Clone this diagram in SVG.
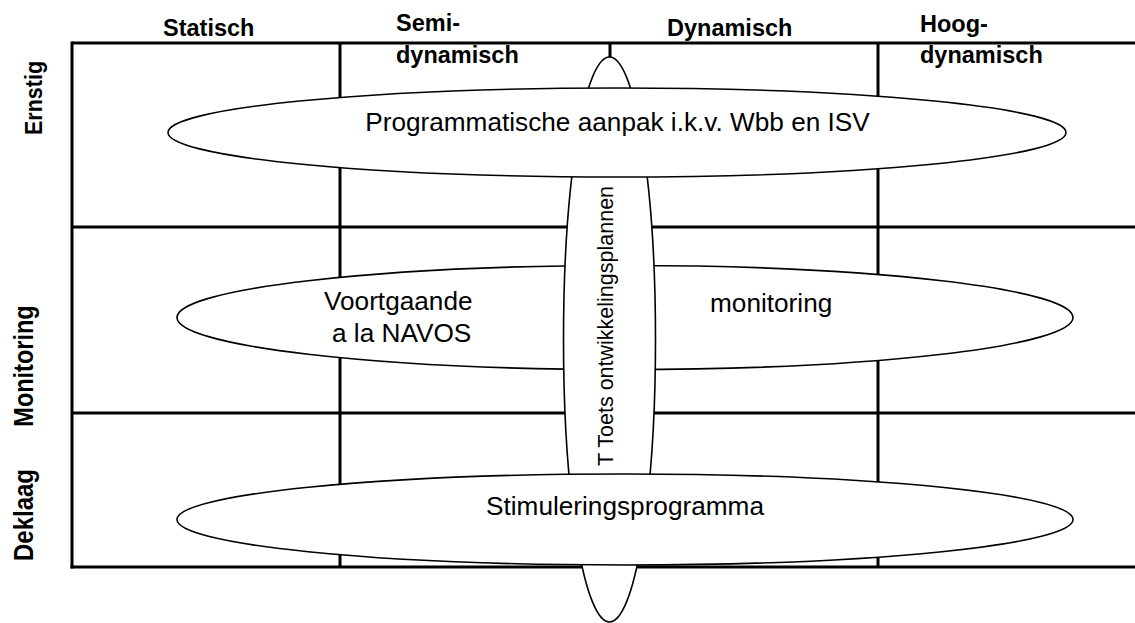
<svg xmlns="http://www.w3.org/2000/svg" width="1135" height="623" viewBox="0 0 1135 623">
<style>
.grid{stroke:#000;stroke-width:3;fill:none}
.ell{fill:#fff;stroke:#000;stroke-width:1.6}
.hdr{font-family:"Liberation Sans",Arial,sans-serif;font-weight:bold;font-size:23.5px;fill:#000}
.lbl{font-family:"Liberation Sans",Arial,sans-serif;font-size:26.2px;fill:#000}
.vt{font-family:"Liberation Sans",Arial,sans-serif;font-size:21.5px;fill:#000}
</style>
<rect width="1135" height="623" fill="#fff"/>
<g id="grid">
<line class="grid" x1="72" y1="43" x2="1135" y2="43"/>
<line class="grid" x1="72" y1="227" x2="1135" y2="227"/>
<line class="grid" x1="72" y1="413" x2="1135" y2="413"/>
<line class="grid" x1="70.5" y1="567" x2="1135" y2="567"/>
<line class="grid" x1="72" y1="41.5" x2="72" y2="568.5"/>
<line class="grid" x1="340" y1="43" x2="340" y2="567"/>
<line class="grid" x1="610" y1="43" x2="610" y2="567"/>
<line class="grid" x1="878" y1="43" x2="878" y2="567"/>
</g>
<g id="headers">
<text class="hdr" x="163" y="36">Statisch</text>
<text class="hdr" x="396" y="31">Semi-</text>
<text class="hdr" x="396" y="63">dynamisch</text>
<text class="hdr" x="667" y="36">Dynamisch</text>
<text class="hdr" x="920" y="32">Hoog-</text>
<text class="hdr" x="920" y="63">dynamisch</text>
<text class="hdr" transform="translate(41.5,98) rotate(-90) scale(1,1.15)" text-anchor="middle" style="font-size:21.5px">Ernstig</text>
<text class="hdr" transform="translate(33,366) rotate(-90) scale(1,1.15)" text-anchor="middle">Monitoring</text>
<text class="hdr" transform="translate(33,515) rotate(-90) scale(1,1.15)" text-anchor="middle" style="font-size:24px">Deklaag</text>
</g>
<g id="node-monitoring">
<ellipse class="ell" cx="625" cy="317.5" rx="448" ry="52"/>
<text class="lbl" x="324" y="310">Voortgaande</text>
<text class="lbl" x="332" y="342">a la NAVOS</text>
<text class="lbl" x="710" y="312">monitoring</text>
</g>
<g id="node-toets">
<ellipse class="ell" cx="609.5" cy="339.5" rx="46" ry="282.5"/>
<text class="vt" transform="translate(613,326) rotate(-90)" text-anchor="middle">T Toets ontwikkelingsplannen</text>
</g>
<g id="node-programmatisch">
<ellipse class="ell" cx="617" cy="132.5" rx="449" ry="44.5"/>
<text class="lbl" x="617.5" y="131" text-anchor="middle">Programmatische aanpak i.k.v. Wbb en ISV</text>
</g>
<g id="node-stimulering">
<ellipse class="ell" cx="625" cy="519.5" rx="448" ry="45.5"/>
<text class="lbl" x="625" y="515" text-anchor="middle">Stimuleringsprogramma</text>
</g>
</svg>
